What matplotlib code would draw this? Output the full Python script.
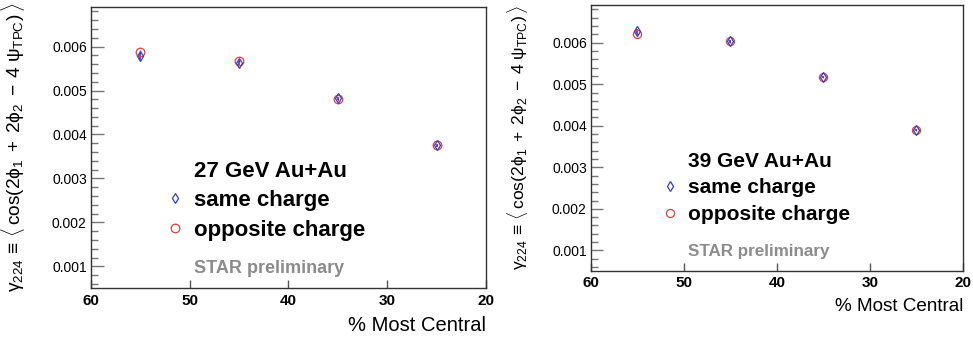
import matplotlib
matplotlib.use('Agg')
import matplotlib.pyplot as plt
from matplotlib.ticker import MultipleLocator, FormatStrFormatter

plt.rcParams['font.family'] = ['Liberation Sans', 'DejaVu Sans']
plt.rcParams['mathtext.fontset'] = 'custom'
plt.rcParams['mathtext.rm'] = 'Liberation Sans'
plt.rcParams['mathtext.it'] = 'Liberation Sans'
plt.rcParams['mathtext.bf'] = 'Liberation Sans:bold'

# Centrality bins (% most central).
centrality = [55, 45, 35, 25]

# 27 GeV Au+Au
same_27 = [0.00578, 0.00562, 0.00482, 0.00375]
opposite_27 = [0.00588, 0.00568, 0.00480, 0.00376]
same_27_err = [0.00008, 0.00005, 0.00004, 0.00004]
opposite_27_err = [0.00004, 0.00003, 0.00003, 0.00003]

# 39 GeV Au+Au
same_39 = [0.00627, 0.00603, 0.00517, 0.00390]
opposite_39 = [0.00620, 0.00603, 0.00517, 0.00390]
same_39_err = [0.00005, 0.00003, 0.00003, 0.00003]
opposite_39_err = [0.00003, 0.00003, 0.00003, 0.00003]

y_label = (r'$\mathrm{\gamma}_{224}\,\equiv\,\langle\,\mathrm{cos(2\phi_{1}\;+\;2\phi_{2}\;-\;4\;'
           r'\psi_{TPC})}\,\rangle$')

red = '#e0403a'
blue = '#3a3ad0'


def draw_panel(axes, title, same, same_err, opposite, opposite_err, scale, label_y, label_size):
    opp = axes.errorbar(centrality, opposite, yerr=opposite_err, fmt='o', ms=6.2 * scale, mfc='none',
                        mec=red, mew=0.9, ecolor=red, elinewidth=0.9, capsize=0)
    same_marks = axes.errorbar(centrality, same, yerr=same_err, fmt='d', ms=5.5 * scale, mfc='none',
                               mec=blue, mew=0.9, ecolor=blue, elinewidth=1.2, capsize=0)

    axes.set_xlim(60, 20)
    axes.set_ylim(0.00051, 0.0069)
    axes.xaxis.set_major_locator(MultipleLocator(10))
    axes.yaxis.set_major_locator(MultipleLocator(0.001))
    axes.yaxis.set_minor_locator(MultipleLocator(0.0002))
    axes.yaxis.set_major_formatter(FormatStrFormatter('%.3f'))

    axes.tick_params(axis='y', which='major', direction='in', length=9 * scale, width=1,
                     color='#777777', labelsize=10, pad=3)
    axes.tick_params(axis='y', which='minor', direction='in', length=5 * scale, width=1,
                     color='#777777')
    axes.tick_params(axis='x', which='major', direction='in', length=6 * scale, width=1,
                     color='#555555', labelsize=11, pad=4)
    for label in axes.get_xticklabels():
        label.set_fontweight('bold')
    for spine in axes.spines.values():
        spine.set_color('#333333')
        spine.set_linewidth(1.0)

    axes.set_xlabel('% Most Central', fontsize=14.5 * scale)
    axes.xaxis.set_label_coords(1.0, -0.135)
    axes.xaxis.label.set_ha('right')
    axes.xaxis.label.set_va('center')

    axes.set_ylabel(y_label, fontsize=label_size)
    axes.yaxis.set_label_coords(-0.163, label_y)

    axes.text(0.261, 0.413, title, transform=axes.transAxes, fontsize=16 * scale,
              fontweight='bold', va='center', ha='left')
    axes.legend([same_marks[0], opp[0]], ['same charge', 'opposite charge'],
                loc='upper left', bbox_to_anchor=(0.19, 0.35),
                frameon=False, borderpad=0, borderaxespad=0, handlelength=0.8,
                handletextpad=0.47, labelspacing=0.4,
                prop={'size': 16 * scale, 'weight': 'bold'})
    axes.text(0.261, 0.071, 'STAR preliminary', transform=axes.transAxes,
              fontsize=13 * scale, fontweight='bold', color='#8c8c8c', va='center', ha='left')


figure = plt.figure(figsize=(9.73, 3.37), dpi=100, facecolor='white')

left_axes = figure.add_axes([0.0935, 0.1454, 0.406, 0.834])
right_axes = figure.add_axes([0.6074, 0.1967, 0.3823, 0.7875])

draw_panel(left_axes, '27 GeV Au+Au', same_27, same_27_err, opposite_27, opposite_27_err, 1.0, 0.5, 13.8)
draw_panel(right_axes, '39 GeV Au+Au', same_39, same_39_err, opposite_39, opposite_39_err, 0.94, 0.5, 12.6)

figure.savefig('out.png', dpi=100, facecolor='white')
